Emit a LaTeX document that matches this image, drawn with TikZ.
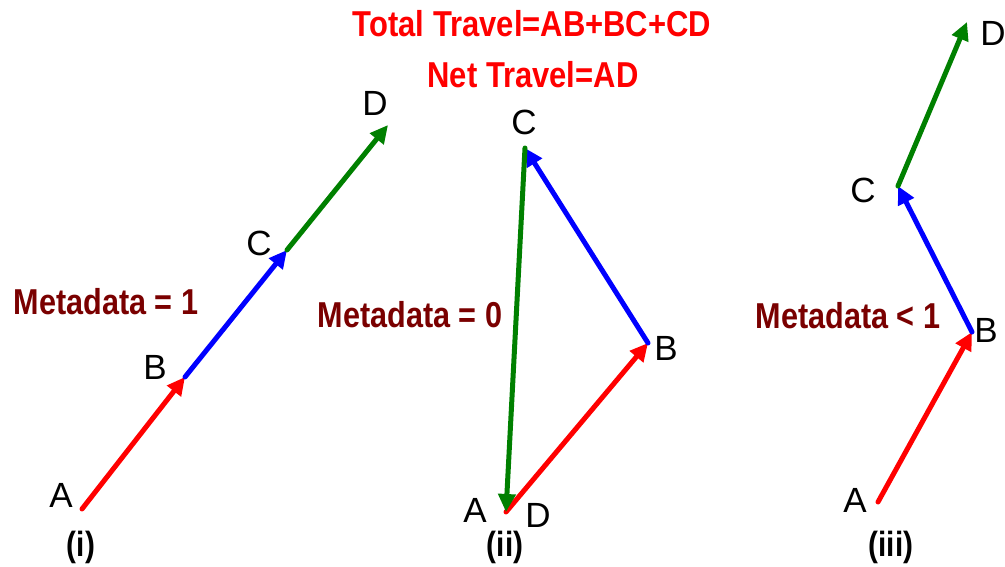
\documentclass[tikz,border=0pt]{standalone}
\usepackage{fontspec}
\setmainfont{Liberation Sans}
\usetikzlibrary{arrows.meta}
\definecolor{vred}{RGB}{255,0,0}
\definecolor{vblue}{RGB}{0,0,255}
\definecolor{vgreen}{RGB}{0,128,0}
\definecolor{maroon}{RGB}{122,0,0}
\begin{document}
\begin{tikzpicture}[x=1pt,y=-1pt,
  vec/.style={line width=5pt,line cap=round,-{Triangle[length=18pt,width=17pt]}},
  lbl/.style={inner sep=0pt,font=\fontsize{35}{38}\selectfont},
  meta/.style={inner sep=0pt,text=maroon,font=\bfseries\fontsize{36}{40}\selectfont},
  ttl/.style={inner sep=0pt,text=vred,font=\bfseries\fontsize{36}{40}\selectfont},
  panelcap/.style={inner sep=0pt,font=\bfseries\fontsize{35}{38}\selectfont}]
\useasboundingbox (0,0) rectangle (1005,567);
% titles
\node[ttl] (t1) at (532,24) {\scalebox{0.86}[1]{Total Travel=AB+BC+CD}};
\node[ttl] (t2) at (533,75) {\scalebox{0.86}[1]{Net Travel=AD}};
% panel (i)
\coordinate (A1) at (82,509);
\coordinate (B1) at (185,377);
\coordinate (C1) at (287,250);
\coordinate (D1) at (388,125);
\draw[vec,vred] (A1) -- (B1);
\draw[vec,vblue] (B1) -- (C1);
\draw[vec,vgreen] (C1) -- (D1);
\node[lbl] (lA1) at (61,495) {A};
\node[lbl] (lB1) at (155,367) {B};
\node[lbl] (lC1) at (259,243) {C};
\node[lbl] (lD1) at (375,103) {D};
\node[meta] (m1) at (106,302) {\scalebox{0.85}[1]{Metadata = 1}};
\node[panelcap] (c1) at (81,547) {\scalebox{0.85}[1]{(i)}};
% panel (ii)
\coordinate (A2) at (506,512);
\coordinate (B2) at (648,343);
\coordinate (C2) at (525,148);
\draw[vec,vred] (A2) -- (B2);
\draw[vec,vblue] (B2) -- (C2);
\draw[vec,vgreen] (C2) -- (A2);
\node[lbl] (lA2) at (475,510) {A};
\node[lbl] (lD2) at (538,515) {D};
\node[lbl] (lB2) at (666,348) {B};
\node[lbl] (lC2) at (524,122) {C};
\node[meta] (m2) at (410,315) {\scalebox{0.85}[1]{Metadata = 0}};
\node[panelcap] (c2) at (505,547) {\scalebox{0.85}[1]{(ii)}};
% panel (iii)
\coordinate (A3) at (878,502);
\coordinate (B3) at (972,332);
\coordinate (C3) at (898,186);
\coordinate (D3) at (967,22);
\draw[vec,vred] (A3) -- (B3);
\draw[vec,vblue] (B3) -- (C3);
\draw[vec,vgreen] (C3) -- (D3);
\node[lbl] (lA3) at (855,500) {A};
\node[lbl] (lB3) at (986,330) {B};
\node[lbl] (lC3) at (863,190) {C};
\node[lbl] (lD3) at (993,33) {D};
\node[meta] (m3) at (848,316) {\scalebox{0.85}[1]{Metadata < 1}};
\node[panelcap] (c3) at (891,547) {\scalebox{0.85}[1]{(iii)}};
\end{tikzpicture}
\end{document}
